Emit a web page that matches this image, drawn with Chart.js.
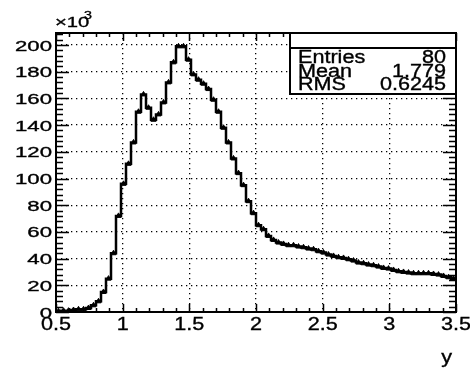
<!DOCTYPE html>
<html>
<head>
<meta charset="utf-8">
<script src="https://cdn.jsdelivr.net/npm/chart.js@4.4.0/dist/chart.umd.min.js"></script>
<style>
  html, body { margin: 0; padding: 0; background: #fff; }
  canvas { display: block; }
</style>
</head>
<body>
<canvas id="hist" width="470" height="372"></canvas>
<script>
// histogram of y, 80 bins from 0.5 to 3.5, counts in units of 10^3
const xMin = 0.5;
const xMax = 3.5;
const counts = [
  0.5, 1, 1, 1.5, 2, 2, 3, 5, 8, 15,
  25, 44, 72, 96, 111, 127, 150, 163, 153, 144,
  148, 157, 172, 187, 199, 199, 189, 178, 174, 171,
  167, 159, 150, 138, 127, 115, 104, 95, 83, 74,
  65, 62, 57, 54, 52, 51, 50, 50, 49, 48.5,
  47.5, 47, 45.5, 44.5, 43, 42, 41, 40.5, 39.5, 38.5,
  37, 36.5, 35.5, 35, 34, 33, 32.5, 31.5, 30.5, 30,
  29.5, 29, 29, 29, 29, 28.5, 28, 27, 26, 25
];
const statNames = ['Entries', 'Mean', 'RMS'];
const statValues = ['80', '1.779', '0.6245'];
const yTitle = 'y';
const yExponent = '3';

const binWidth = (xMax - xMin) / counts.length;
// bin centres, padded with the two outer edges so the steps reach the frame
const points = [{ x: xMin, y: counts[0] }];
counts.forEach((c, i) => points.push({ x: xMin + binWidth * (i + 0.5), y: c }));
points.push({ x: xMax, y: counts[counts.length - 1] });

function stretchText(ctx, text, x, y, size, align, sx) {
  ctx.save();
  ctx.font = size + 'px "Liberation Sans", Arial, sans-serif';
  ctx.textAlign = align;
  ctx.textBaseline = 'alphabetic';
  ctx.translate(x, y);
  ctx.scale(sx, 1);
  ctx.fillStyle = '#000';
  ctx.strokeStyle = '#000';
  ctx.lineWidth = 0.35;
  ctx.fillText(text, 0, 0);
  ctx.strokeText(text, 0, 0);
  ctx.restore();
}

// frame, inward ticks, labels and stats box in the ROOT look
const rootPad = {
  id: 'rootPad',
  afterDraw(chart) {
    const ctx = chart.ctx;
    const a = chart.chartArea;
    const xs = chart.scales.x;
    const ys = chart.scales.y;

    ctx.save();
    ctx.strokeStyle = '#000';
    ctx.lineWidth = 1.5;

    // ticks on all four sides, pointing in
    ctx.beginPath();
    for (let k = 0; k <= 30; k++) {
      const v = xMin + k * 0.1;
      const px = Math.round(xs.getPixelForValue(v)) + 0.5;
      const len = k % 5 === 0 ? 8 : 4;
      ctx.moveTo(px, a.bottom); ctx.lineTo(px, a.bottom - len);
      ctx.moveTo(px, a.top); ctx.lineTo(px, a.top + len);
    }
    for (let v = 0; v <= ys.max; v += 4) {
      const py = Math.round(ys.getPixelForValue(v)) + 0.5;
      const len = v % 20 === 0 ? 13 : 7;
      ctx.moveTo(a.left, py); ctx.lineTo(a.left + len, py);
      ctx.moveTo(a.right, py); ctx.lineTo(a.right - len, py);
    }
    ctx.stroke();

    ctx.lineWidth = 2;
    ctx.strokeRect(a.left, a.top, a.right - a.left, a.bottom - a.top);

    // tick labels
    ys.ticks.forEach(t => {
      stretchText(ctx, String(t.value), 52, ys.getPixelForValue(t.value) + 5.5, 15, 'right', 1.48);
    });
    xs.ticks.forEach(t => {
      stretchText(ctx, String(t.value), xs.getPixelForValue(t.value), 330, 18, 'center', 1.2);
    });
    stretchText(ctx, '\u00d710', 55, 27, 15, 'left', 1.35);
    stretchText(ctx, yExponent, 84, 19, 11, 'left', 1.3);
    stretchText(ctx, yTitle, 452, 363, 18, 'right', 1.2);

    // statistics box
    const bx = 290, by = a.top, bw = a.right - 290, bh = 61;
    ctx.fillStyle = '#fff';
    ctx.fillRect(bx, by, bw, bh);
    ctx.lineWidth = 2;
    ctx.strokeRect(bx, by, bw, bh);
    ctx.beginPath();
    ctx.moveTo(bx, by + 15); ctx.lineTo(bx + bw, by + 15);
    ctx.stroke();
    statNames.forEach((n, i) => {
      const base = by + 30 + i * 13.5;
      stretchText(ctx, n, 298, base, 18, 'left', 1.2);
      stretchText(ctx, statValues[i], 446, base, 18, 'right', 1.2);
    });
    ctx.restore();
  }
};

new Chart(document.getElementById('hist'), {
  type: 'line',
  data: {
    datasets: [{
      data: points,
      stepped: 'middle',
      borderColor: '#000',
      borderWidth: 2.5,
      backgroundColor: '#000',
      pointStyle: 'triangle',
      pointRadius: ctx => (ctx.dataIndex === 0 || ctx.dataIndex === points.length - 1) ? 0 : 3,
      pointBorderColor: '#000',
      pointBorderWidth: 1,
      fill: false
    }]
  },
  options: {
    responsive: false,
    animation: false,
    layout: { padding: { top: 33, right: 14, left: 0, bottom: 0 } },
    plugins: { legend: { display: false }, tooltip: { enabled: false } },
    scales: {
      x: {
        type: 'linear',
        min: xMin,
        max: xMax,
        ticks: { display: false, stepSize: 0.5 },
        grid: { color: '#000', lineWidth: 1.3, drawTicks: false },
        border: { display: false, dash: [1.3, 3.7] },
        afterFit: s => { s.height = 60; }
      },
      y: {
        min: 0,
        max: 209,
        ticks: { display: false, stepSize: 20, includeBounds: false },
        grid: { color: '#000', lineWidth: 1.3, drawTicks: false },
        border: { display: false, dash: [1.3, 3.7] },
        afterFit: s => { s.width = 56; }
      }
    }
  },
  plugins: [rootPad]
});
</script>
</body>
</html>
